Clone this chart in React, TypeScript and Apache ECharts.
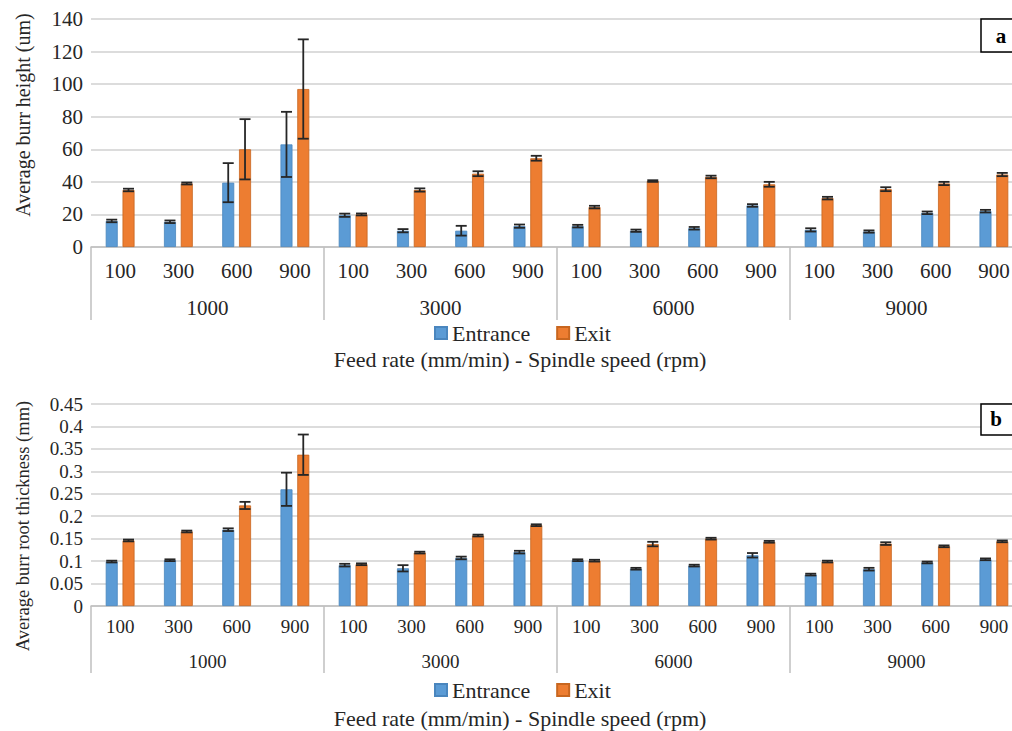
import React, { useEffect, useRef } from "react";
import * as echarts from "echarts";

const feedRates = ["100", "300", "600", "900", "100", "300", "600", "900", "100", "300", "600", "900", "100", "300", "600", "900"];
const spindleSpeeds = ["1000", "3000", "6000", "9000"];

const heightEntrance = [16, 15.5, 39.5, 63, 19.5, 10, 10, 12.8, 12.8, 10, 11.5, 25.5, 10.5, 9.5, 21, 22];
const heightEntranceErr = [0.8, 0.8, 12, 20, 1, 1, 3, 1, 0.8, 0.7, 0.8, 0.8, 1, 0.7, 0.8, 0.8];
const heightExit = [35, 39, 60, 97, 20, 35, 45, 54.5, 24.5, 40.5, 43, 38.5, 30, 35.5, 39, 44.5];
const heightExitErr = [0.8, 0.6, 18.5, 30.5, 0.6, 1, 1.5, 1.5, 0.8, 0.5, 0.8, 1.5, 0.8, 1.2, 1, 1];

const rootEntrance = [0.099, 0.102, 0.17, 0.26, 0.091, 0.084, 0.107, 0.12, 0.102, 0.083, 0.09, 0.113, 0.07, 0.082, 0.097, 0.104];
const rootEntranceErr = [0.002, 0.002, 0.003, 0.037, 0.003, 0.007, 0.003, 0.003, 0.002, 0.002, 0.002, 0.005, 0.002, 0.003, 0.002, 0.002];
const rootExit = [0.146, 0.166, 0.224, 0.337, 0.093, 0.119, 0.157, 0.18, 0.101, 0.138, 0.15, 0.143, 0.099, 0.139, 0.133, 0.144];
const rootExitErr = [0.002, 0.002, 0.008, 0.045, 0.002, 0.002, 0.002, 0.002, 0.002, 0.005, 0.002, 0.002, 0.002, 0.003, 0.002, 0.002];

const heightTicks = { min: 0, max: 140, interval: 20 };
const rootTicks = { min: 0, max: 0.45, interval: 0.05 };

const FONT = "'Liberation Serif', 'Times New Roman', serif";
const BLUE = "#5B9BD5";
const ORANGE = "#ED7D31";
const TEXT = "#262626";
const BAR_W = 12;
const OFFSET = 8.4;

function errorRender(offset: number) {
  return (params: any, api: any) => {
    const idx = api.value(0);
    const v = api.value(1);
    const e = api.value(2);
    const hi = api.coord([idx, v + e]);
    const lo = api.coord([idx, v - e]);
    const x = hi[0] + offset;
    const cap = 5.5;
    const style = { stroke: "#262626", lineWidth: 1.8 };
    return {
      type: "group",
      children: [
        { type: "line", shape: { x1: x, y1: hi[1], x2: x, y2: lo[1] }, style },
        { type: "line", shape: { x1: x - cap, y1: hi[1], x2: x + cap, y2: hi[1] }, style },
        { type: "line", shape: { x1: x - cap, y1: lo[1], x2: x + cap, y2: lo[1] }, style },
      ],
    };
  };
}

function errData(vals: number[], errs: number[]) {
  return vals.map((v, i) => [i, v, errs[i]]);
}

export default function App() {
  const ref = useRef<HTMLDivElement>(null);
  useEffect(() => {
    const chart = echarts.init(ref.current!, undefined, { renderer: "svg" });

    const innerAxis = (gridIndex: number, fontSize: number, margin: number) => ({
      type: "category",
      gridIndex,
      data: feedRates,
      position: "bottom",
      axisLine: { show: true, lineStyle: { color: "#BFBFBF", width: 1.5 } },
      axisTick: { show: false },
      splitLine: { show: false },
      axisLabel: { interval: 0, margin, color: TEXT, fontFamily: FONT, fontSize },
    });
    const outerAxis = (gridIndex: number, fontSize: number, margin: number, tickLen: number) => ({
      type: "category",
      gridIndex,
      data: spindleSpeeds,
      position: "bottom",
      axisLine: { show: false },
      axisTick: { show: true, interval: 0, length: tickLen, lineStyle: { color: "#BFBFBF", width: 1.5 } },
      splitLine: { show: false },
      axisLabel: { interval: 0, margin, color: TEXT, fontFamily: FONT, fontSize },
    });
    const valAxis = (gridIndex: number, ticks: any, fontSize: number) => ({
      type: "value",
      gridIndex,
      min: ticks.min,
      max: ticks.max,
      interval: ticks.interval,
      axisLine: { show: false },
      axisTick: { show: false },
      splitLine: { show: true, lineStyle: { color: "#D0D0D0", width: 1.5 } },
      axisLabel: { margin: 8, color: TEXT, fontFamily: FONT, fontSize },
    });

    const bar = (name: string, data: number[], color: string, border: string, xAxisIndex: number, yAxisIndex: number) => ({
      name,
      type: "bar",
      xAxisIndex,
      yAxisIndex,
      data,
      barWidth: BAR_W,
      barGap: "40%",
      itemStyle: { color, borderColor: border, borderWidth: 0.8 },
      z: 2,
    });
    const err = (vals: number[], errs: number[], offset: number, xAxisIndex: number, yAxisIndex: number) => ({
      type: "custom",
      xAxisIndex,
      yAxisIndex,
      data: errData(vals, errs),
      renderItem: errorRender(offset),
      encode: { x: 0, y: 1 },
      z: 5,
      silent: true,
    });

    const legend = (top: number) => ({
      left: 434,
      top,
      data: ["Entrance", "Exit"],
      icon: "rect",
      itemWidth: 12,
      itemHeight: 12,
      itemGap: 26,
      padding: 0,
      textStyle: { fontFamily: FONT, fontSize: 22, lineHeight: 18, color: TEXT },
    });

    const option: any = {
      animation: false,
      backgroundColor: "#fff",
      grid: [
        { left: 91, top: 19, width: 932, height: 228 },
        { left: 91, top: 404, width: 932, height: 202 },
      ],
      xAxis: [
        innerAxis(0, 21, 13),
        outerAxis(0, 21, 50, 73),
        innerAxis(1, 19, 11),
        outerAxis(1, 19, 46, 67),
      ],
      yAxis: [valAxis(0, heightTicks, 21), valAxis(1, rootTicks, 19)],
      legend: [legend(322), legend(679)],
      series: [
        bar("Entrance", heightEntrance, BLUE, "#4A86BE", 0, 0),
        bar("Exit", heightExit, ORANGE, "#C8661F", 0, 0),
        err(heightEntrance, heightEntranceErr, -OFFSET, 0, 0),
        err(heightExit, heightExitErr, OFFSET, 0, 0),
        bar("Entrance", rootEntrance, BLUE, "#4A86BE", 2, 1),
        bar("Exit", rootExit, ORANGE, "#C8661F", 2, 1),
        err(rootEntrance, rootEntranceErr, -OFFSET, 2, 1),
        err(rootExit, rootExitErr, OFFSET, 2, 1),
      ],
      graphic: [
        {
          type: "text", x: 520, y: 359,
          style: { text: "Feed rate (mm/min) - Spindle speed (rpm)", font: `22px ${FONT}`, fill: TEXT, textAlign: "center", textVerticalAlign: "middle" },
        },
        {
          type: "text", x: 520, y: 718,
          style: { text: "Feed rate (mm/min) - Spindle speed (rpm)", font: `22px ${FONT}`, fill: TEXT, textAlign: "center", textVerticalAlign: "middle" },
        },
        {
          type: "text", x: 23, y: 115, rotation: Math.PI / 2,
          style: { text: "Average burr height (um)", font: `20px ${FONT}`, fill: TEXT, textAlign: "center", textVerticalAlign: "middle" },
        },
        {
          type: "text", x: 23, y: 526, rotation: Math.PI / 2,
          style: { text: "Average burr root thickness (mm)", font: `18.5px ${FONT}`, fill: TEXT, textAlign: "center", textVerticalAlign: "middle" },
        },
        {
          type: "rect", shape: { x: 981, y: 19, width: 50, height: 33 },
          style: { fill: "#fff", stroke: "#000", lineWidth: 1.5 }, z: 10,
        },
        {
          type: "text", x: 1001, y: 36, z: 11,
          style: { text: "a", font: `bold 21px ${FONT}`, fill: "#000", textAlign: "center", textVerticalAlign: "middle" },
        },
        {
          type: "rect", shape: { x: 981, y: 404, width: 50, height: 31 },
          style: { fill: "#fff", stroke: "#000", lineWidth: 1.5 }, z: 10,
        },
        {
          type: "text", x: 996, y: 419, z: 11,
          style: { text: "b", font: `bold 21px ${FONT}`, fill: "#000", textAlign: "center", textVerticalAlign: "middle" },
        },
      ],
    };
    chart.setOption(option);
    return () => chart.dispose();
  }, []);
  return (
    <div style={{ position: "fixed", left: 0, top: 0, width: 1012, height: 731, overflow: "hidden", background: "#fff" }}>
      <div ref={ref} style={{ width: 1040, height: 731 }} />
    </div>
  );
}
